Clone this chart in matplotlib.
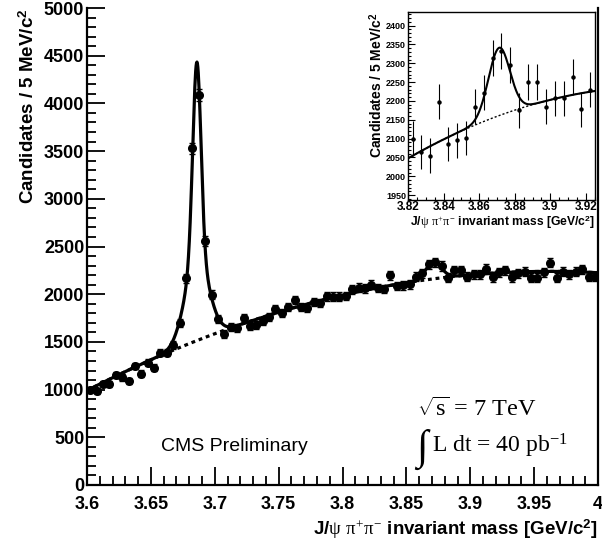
import numpy as np
import matplotlib
matplotlib.use("Agg")
import matplotlib.pyplot as plt
from matplotlib.ticker import MultipleLocator, FormatStrFormatter

# J/psi pi+ pi- invariant mass, 5 MeV bins from 3.600 to 4.000 GeV/c^2
mass_lo = 3.6
mass_hi = 4.0
bin_width = 0.005
counts = [996, 988, 1058, 1055, 1153, 1128, 1090, 1247, 1166, 1282,
          1229, 1387, 1387, 1467, 1694, 2166, 3529, 4087, 2560, 1995,
          1740, 1580, 1659, 1642, 1747, 1666, 1677, 1722, 1764, 1844,
          1799, 1869, 1939, 1862, 1852, 1921, 1905, 1978, 1974, 1974,
          1981, 2051, 2068, 2061, 2100, 2065, 2055, 2198, 2085, 2095,
          2102, 2185, 2222, 2315, 2333, 2295, 2175, 2250, 2250, 2185,
          2207, 2207, 2264, 2178, 2230, 2253, 2177, 2219, 2236, 2173,
          2173, 2229, 2330, 2173, 2236, 2208, 2236, 2260, 2183, 2183]

# fit model
bkg_poly = [990.0, 6912.0, -9562.0]      # quadratic in (m - 3.6)
psi_mass = 3.686
psi_amp = 2920.0
psi_sigmas = [0.0032, 0.009]
psi_fracs = [0.7, 0.3]
x_mass = 3.8712
x_amp = 180.0
x_sigma = 0.006

inset_lo, inset_hi = 3.82, 3.925


def background(m):
    t = m - mass_lo
    return bkg_poly[0] + bkg_poly[1] * t + bkg_poly[2] * t ** 2


def gauss(m, mu, s):
    return np.exp(-0.5 * ((m - mu) / s) ** 2)


def total(m):
    sig = sum(f * gauss(m, psi_mass, s) for f, s in zip(psi_fracs, psi_sigmas))
    return background(m) + psi_amp * sig + x_amp * gauss(m, x_mass, x_sigma)


plt.rcParams['font.family'] = ['Liberation Sans', 'DejaVu Sans']
plt.rcParams['mathtext.fontset'] = 'custom'
plt.rcParams['mathtext.rm'] = 'Liberation Serif'
plt.rcParams['mathtext.it'] = 'Liberation Serif'
plt.rcParams['mathtext.bf'] = 'Liberation Sans:bold'

serif = ['Liberation Serif', 'DejaVu Serif']

counts = np.array(counts, dtype=float)
centers = mass_lo + bin_width * (np.arange(len(counts)) + 0.5)
errs = np.sqrt(counts)
mgrid = np.linspace(mass_lo, mass_hi, 1200)

fig = plt.figure(figsize=(6.02, 5.42), dpi=100)
ax = fig.add_axes([0.1445, 0.1052, 0.849, 0.880])

ax.plot(mgrid, background(mgrid), color='black', lw=2.3, ls=(0, (1.2, 1.2)), zorder=2)
ax.plot(mgrid, total(mgrid), color='black', lw=2.3, zorder=3)
ax.errorbar(centers, counts, yerr=errs, fmt='o', color='black', ms=5.5,
            elinewidth=1.2, capsize=2, capthick=1.0, zorder=4)

ax.set_xlim(mass_lo, mass_hi)
ax.set_ylim(0, 5000)
ax.xaxis.set_major_locator(MultipleLocator(0.05))
ax.xaxis.set_minor_locator(MultipleLocator(0.01))
ax.yaxis.set_major_locator(MultipleLocator(500))
ax.yaxis.set_minor_locator(MultipleLocator(100))
ax.xaxis.set_major_formatter(FormatStrFormatter('%g'))
ax.tick_params(which='both', direction='in', top=False, right=False, width=1.3)
ax.tick_params(which='major', length=13, labelsize=13, pad=2)
ax.tick_params(axis='x', which='major', pad=8)
ax.tick_params(which='minor', length=6.5)
for lbl in ax.get_xticklabels() + ax.get_yticklabels():
    lbl.set_fontweight('bold')
# lift the "0" a touch so it sits above the "3.6" like in ROOT output
ax.get_yticklabels()[0].set_verticalalignment('baseline')
for side in ['left', 'bottom', 'right']:
    ax.spines[side].set_linewidth(1.6)
ax.spines['top'].set_visible(False)

ax.set_ylabel(r'Candidates / 5 MeV/c$^{\mathbf{2}}$', loc='top', fontsize=13.5,
              fontweight='bold', labelpad=4)
ax.set_xlabel(r'J/$\psi$ $\pi^{+}\pi^{-}$ invariant mass [GeV/c$^{\mathbf{2}}$]', loc='right',
              fontsize=13.5, fontweight='bold', labelpad=3)

ax.text(0.145, 0.08, 'CMS Preliminary', transform=ax.transAxes, fontsize=14,
        ha='left', va='center')
ax.text(0.645, 0.158, r'$\sqrt{\mathrm{s}}$ = 7 TeV', transform=ax.transAxes,
        fontsize=17.5, family=serif, ha='left', va='center')
ax.text(0.645, 0.075, '\u222b', transform=ax.transAxes, fontsize=30,
        family=serif, ha='left', va='center')
ax.text(0.675, 0.082, r'L dt = 40 pb$^{-1}$', transform=ax.transAxes, fontsize=17,
        family=serif, ha='left', va='center')

# inset zoom on the X(3872) region
ins = fig.add_axes([0.678, 0.631, 0.310, 0.346])
sel = (centers > inset_lo) & (centers < inset_hi)
mins = np.linspace(inset_lo, inset_hi, 400)
ins.plot(mins, background(mins), color='black', lw=1.0, ls=(0, (1.5, 1.5)), zorder=2)
ins.plot(mins, total(mins), color='black', lw=1.5, zorder=3)
ins.errorbar(centers[sel], counts[sel], yerr=errs[sel], fmt='o', color='black',
             ms=2.2, elinewidth=0.8, capsize=0, zorder=4)
ins.set_xlim(inset_lo, inset_hi)
ins.set_ylim(1937, 2435)
ins.xaxis.set_major_locator(MultipleLocator(0.02))
ins.xaxis.set_minor_locator(MultipleLocator(0.005))
ins.yaxis.set_major_locator(MultipleLocator(50))
ins.yaxis.set_minor_locator(MultipleLocator(10))
ins.xaxis.set_major_formatter(FormatStrFormatter('%g'))
ins.tick_params(which='both', direction='in', top=False, right=False, width=0.8)
ins.tick_params(which='major', length=5, pad=1.5)
ins.tick_params(which='minor', length=2.5)
ins.tick_params(axis='x', labelsize=8.5, pad=1)
ins.tick_params(axis='y', labelsize=6.5)
for lbl in ins.get_xticklabels() + ins.get_yticklabels():
    lbl.set_fontweight('bold')
for sp in ins.spines.values():
    sp.set_linewidth(1.0)
ins.set_ylabel(r'Candidates / 5 MeV/c$^{\mathbf{2}}$', loc='top', fontsize=10,
               fontweight='bold', labelpad=1)
ins.set_xlabel(r'J/$\psi$ $\pi^{+}\pi^{-}$ invariant mass [GeV/c$^{\mathbf{2}}$]', loc='right',
               fontsize=8.7, fontweight='bold', labelpad=0)

fig.savefig('out.png', dpi=100)
